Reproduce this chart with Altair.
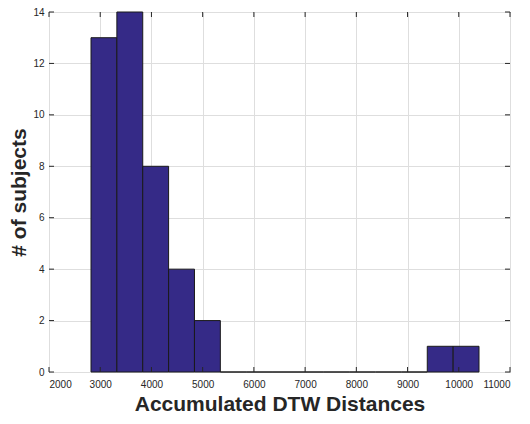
import altair as alt
import pandas as pd

# Histogram
bin_edges = [2820, 3325, 3830, 4335, 4840, 5345, 5850, 6355, 6860, 7365,
             7870, 8375, 8880, 9385, 9890, 10395]
counts = [13, 14, 8, 4, 2, 0, 0, 0, 0, 0, 0, 0, 0, 1, 1]
x_ticks = [2000, 3000, 4000, 5000, 6000, 7000, 8000, 9000, 10000, 11000]
y_ticks = [0, 2, 4, 6, 8, 10, 12, 14]

W, H = 461, 360
TICK = 5
FONT = "Liberation Sans"
INK = "#262626"

bars_df = pd.DataFrame({"start": bin_edges[:-1], "end": bin_edges[1:], "count": counts})
xt_df = pd.DataFrame({"v": x_ticks})
yt_df = pd.DataFrame({"v": y_ticks})

xscale = alt.Scale(domain=[2000, 11000], nice=False, zero=False)
yscale = alt.Scale(domain=[0, 14], nice=False)

bars = alt.Chart(bars_df).mark_rect(
    color="#352a87", stroke="#1a1a1a", strokeWidth=1
).encode(
    x=alt.X("start:Q", scale=xscale,
            axis=alt.Axis(values=x_ticks, title="Accumulated DTW Distances",
                          format="d", labelPadding=7, titlePadding=4)),
    x2="end:Q",
    y=alt.Y("count:Q", scale=yscale,
            axis=alt.Axis(values=y_ticks, title="# of subjects",
                          labelPadding=5, titlePadding=3)),
    y2=alt.datum(0),
)

bottom_ticks = alt.Chart(xt_df).mark_rule(color=INK, strokeWidth=1).encode(
    x=alt.X("v:Q", scale=xscale), y=alt.value(H), y2=alt.value(H - TICK))
top_ticks = alt.Chart(xt_df).mark_rule(color=INK, strokeWidth=1).encode(
    x=alt.X("v:Q", scale=xscale), y=alt.value(0), y2=alt.value(TICK))
left_ticks = alt.Chart(yt_df).mark_rule(color=INK, strokeWidth=1).encode(
    y=alt.Y("v:Q", scale=yscale), x=alt.value(0), x2=alt.value(TICK))
right_ticks = alt.Chart(yt_df).mark_rule(color=INK, strokeWidth=1).encode(
    y=alt.Y("v:Q", scale=yscale), x=alt.value(W), x2=alt.value(W - TICK))

chart = alt.layer(bars, bottom_ticks, top_ticks, left_ticks, right_ticks).properties(
    width=W, height=H,
    autosize=alt.AutoSizeParams(type="none"),
    padding={"left": 41, "top": 4, "right": 12, "bottom": 44},
).configure_view(
    stroke=INK, strokeWidth=1
).configure_axis(
    grid=True, gridColor="#dedede", gridWidth=1,
    domain=False, ticks=False, tickSize=0,
    labelFont=FONT, labelFontSize=10, labelColor=INK,
    titleFont=FONT, titleFontSize=21, titleFontWeight="bold", titleColor=INK,
)

chart.save("out.html", embed_options={"renderer": "svg", "actions": False})
